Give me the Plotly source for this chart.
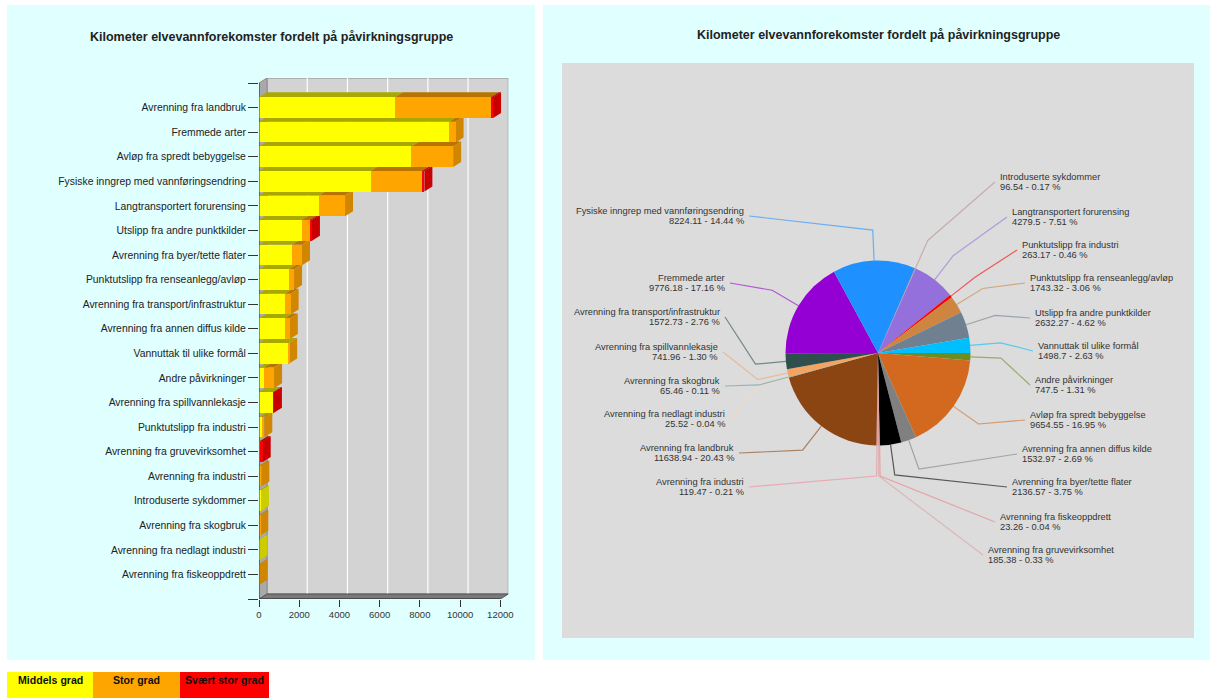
import math
import plotly.graph_objects as go

# ---------------- data ----------------
bar_categories = [
    "Avrenning fra landbruk",
    "Fremmede arter",
    "Avløp fra spredt bebyggelse",
    "Fysiske inngrep med vannføringsendring",
    "Langtransportert forurensing",
    "Utslipp fra andre punktkilder",
    "Avrenning fra byer/tette flater",
    "Punktutslipp fra renseanlegg/avløp",
    "Avrenning fra transport/infrastruktur",
    "Avrenning fra annen diffus kilde",
    "Vannuttak til ulike formål",
    "Andre påvirkninger",
    "Avrenning fra spillvannlekasje",
    "Punktutslipp fra industri",
    "Avrenning fra gruvevirksomhet",
    "Avrenning fra industri",
    "Introduserte sykdommer",
    "Avrenning fra skogbruk",
    "Avrenning fra nedlagt industri",
    "Avrenning fra fiskeoppdrett",
]
km_middels = [6760, 9450, 7580, 5550, 2980, 2120, 1625, 1500, 1280, 1270,
              1470, 270, 700, 170, 0, 30, 97, 0, 26, 0]
km_stor = [4779, 326, 2075, 2560, 1300, 420, 512, 243, 293, 263,
           29, 478, 0, 93, 50, 89, 0, 65, 0, 23]
km_svaert = [100, 0, 0, 114, 0, 92, 0, 0, 0, 0,
             0, 0, 42, 0, 135, 0, 0, 0, 0, 0]
x_tick_values = [0, 2000, 4000, 6000, 8000, 10000, 12000]
x_tick_labels = ["0", "2000", "4000", "6000", "8000", "10000", "12000"]

pie_labels = [
    "Andre påvirkninger",
    "Avløp fra spredt bebyggelse",
    "Avrenning fra annen diffus kilde",
    "Avrenning fra byer/tette flater",
    "Avrenning fra fiskeoppdrett",
    "Avrenning fra gruvevirksomhet",
    "Avrenning fra industri",
    "Avrenning fra landbruk",
    "Avrenning fra nedlagt industri",
    "Avrenning fra skogbruk",
    "Avrenning fra spillvannlekasje",
    "Avrenning fra transport/infrastruktur",
    "Fremmede arter",
    "Fysiske inngrep med vannføringsendring",
    "Introduserte sykdommer",
    "Langtransportert forurensing",
    "Punktutslipp fra industri",
    "Punktutslipp fra renseanlegg/avløp",
    "Utslipp fra andre punktkilder",
    "Vannuttak til ulike formål",
]
pie_values = [747.5, 9654.55, 1532.97, 2136.57, 23.26, 185.38, 119.47,
              11638.94, 25.52, 65.46, 741.96, 1572.73, 9776.18, 8224.11,
              96.54, 4279.5, 263.17, 1743.32, 2632.27, 1498.7]
pie_colors = ["#6B8E23", "#D2691E", "#808080", "#000000", "#F08080",
              "#DDA0A0", "#F08898", "#8B4513", "#FFDAB9", "#5F9EA0",
              "#F4A460", "#2F4F4F", "#9400D3", "#1E90FF", "#BC8F8F",
              "#9370DB", "#FF0000", "#CD853F", "#708090", "#00BFFF"]

chart_title = "Kilometer elvevannforekomster fordelt på påvirkningsgruppe"
grade_names = ["Middels grad", "Stor grad", "Svært stor grad"]

# ---------------- page geometry (pixels) ----------------
W, H = 1212, 698
FONT = "Arial"
PANEL_BG = "#E0FFFF"


def px(x):
    return x / W


def py(y):
    return 1 - y / H


# grade colours: front, top face, side face
grade_faces = [
    ("#FFFF00", "#A8A800", "#CCCC00"),
    ("#FFA500", "#B87400", "#D08600"),
    ("#FF0000", "#A00000", "#C80000"),
]

# 3D bar box layout
AX_LEFT = 259.0        # pixel of x = 0 on the front plane
FRONT_W = 241.3        # pixels from 0 to XMAX on the front plane
DEPTH_X, DEPTH_Y = 8.0, 5.0
TOP_FRONT, BOTTOM = 83.0, 599.0
XMAX = x_tick_values[-1]
n = len(bar_categories)
idx = list(range(n))
unit_x = XMAX / FRONT_W
unit_y = (n + 1) / (BOTTOM - TOP_FRONT)
DXu = DEPTH_X * unit_x
DYu = DEPTH_Y * unit_y
BAR_W = 0.84

fig = go.Figure()

# stacked front faces
for vals, name, faces in zip([km_middels, km_stor, km_svaert], grade_names, grade_faces):
    fig.add_trace(go.Bar(
        y=idx, x=vals, orientation="h", name=name, width=BAR_W,
        marker=dict(color=faces[0], line=dict(width=0)),
        showlegend=False, hovertemplate="%{x}<extra>" + name + "</extra>",
    ))

shapes = []

# panels
shapes.append(dict(type="rect", xref="paper", yref="paper", layer="below",
                   x0=px(7), x1=px(535), y0=py(660), y1=py(5),
                   fillcolor=PANEL_BG, line=dict(width=0)))
shapes.append(dict(type="rect", xref="paper", yref="paper", layer="below",
                   x0=px(543), x1=px(1210), y0=py(660), y1=py(5),
                   fillcolor=PANEL_BG, line=dict(width=0)))
shapes.append(dict(type="rect", xref="paper", yref="paper", layer="below",
                   x0=px(562), x1=px(1194), y0=py(638), y1=py(63),
                   fillcolor="#DCDCDC", line=dict(width=0)))


def poly(pts):
    return "M " + " L ".join(f"{a},{b}" for a, b in pts) + " Z"


def data_shape(path, fill, line_color=None, width=0, layer="below"):
    return dict(type="path", xref="x", yref="y", layer=layer, path=path,
                fillcolor=fill,
                line=dict(color=line_color or fill, width=width))


# back wall, left wall and floor
shapes.append(data_shape(poly([(DXu, -1 - DYu), (XMAX + DXu, -1 - DYu),
                               (XMAX + DXu, n - DYu), (DXu, n - DYu)]),
                         "#D3D3D3", "#8C8C8C", 1))
shapes.append(data_shape(poly([(0, -1), (DXu, -1 - DYu), (DXu, n - DYu), (0, n)]),
                         "#A9A9A9", "#8C8C8C", 1))
for t in x_tick_values[1:-1]:
    shapes.append(dict(type="line", xref="x", yref="y", layer="below",
                       x0=t + DXu, x1=t + DXu, y0=-1 - DYu, y1=n - DYu,
                       line=dict(color="#FFFFFF", width=1.2)))
shapes.append(data_shape(poly([(0, n), (XMAX, n), (XMAX + DXu, n - DYu), (DXu, n - DYu)]),
                         "#7A7A7A", "#555555", 1))

# top and side faces of the bars
for i in idx:
    segs = []
    start = 0
    for vals, faces in zip([km_middels, km_stor, km_svaert], grade_faces):
        v = vals[i]
        if v > 0:
            segs.append((start, start + v, faces))
        start += v
    y_top = i - BAR_W / 2
    y_bot = i + BAR_W / 2
    for x0, x1, faces in segs:
        shapes.append(data_shape(poly([(x0, y_top), (x1, y_top),
                                       (x1 + DXu, y_top - DYu), (x0 + DXu, y_top - DYu)]),
                                 faces[1]))
    if segs:
        xe = segs[-1][1]
        shapes.append(data_shape(poly([(xe, y_top), (xe + DXu, y_top - DYu),
                                       (xe + DXu, y_bot - DYu), (xe, y_bot)]),
                                 segs[-1][2][2]))

# front axis lines
shapes.append(dict(type="line", xref="x", yref="y", layer="above",
                   x0=0, x1=0, y0=-1, y1=n, line=dict(color="#333333", width=1)))
shapes.append(dict(type="line", xref="x", yref="y", layer="above",
                   x0=0, x1=XMAX, y0=n, y1=n, line=dict(color="#333333", width=1)))

# ---------------- pie ----------------
CX, CY, R = 878.0, 353.0, 92.5
total = sum(pie_values)
fig.add_trace(go.Pie(
    labels=pie_labels, values=pie_values, sort=False, direction="clockwise",
    rotation=90, marker=dict(colors=pie_colors, line=dict(width=0)),
    textinfo="none", showlegend=False,
    domain=dict(x=[px(CX - R), px(CX + R)], y=[py(CY + R), py(CY - R)]),
    hovertemplate="%{label}<br>%{value}<extra></extra>",
))

# label anchors for the pie: side, x, y (pixels), one per slice in pie order
label_anchor = [
    ("r", 1033, 385), ("r", 1028, 420), ("r", 1020, 454), ("r", 1010, 487),
    ("r", 998, 522), ("r", 986, 555), ("l", 746, 487), ("l", 736, 453),
    ("l", 727, 419), ("l", 722, 386), ("l", 720, 352), ("l", 722, 317),
    ("l", 727, 283), ("l", 746, 216), ("r", 998, 182), ("r", 1010, 217),
    ("r", 1020, 250), ("r", 1028, 283), ("r", 1033, 318), ("r", 1036, 351),
]
LINE_GAP = 5.3

annotations = []
cum = 0.0
for lab, val, col, (side, ax_, ay_) in zip(pie_labels, pie_values, pie_colors, label_anchor):
    mid = math.radians(90 + 360 * (cum + val / 2) / total)
    cum += val
    ex, ey = CX + R * math.sin(mid), CY - R * math.cos(mid)
    kx, ky = CX + 1.33 * R * math.sin(mid), CY - 1.33 * R * math.cos(mid)
    lx = ax_ - 3 if side == "r" else ax_ + 3
    path = f"M {px(ex)},{py(ey)} L {px(kx)},{py(ky)} L {px(lx)},{py(ay_)}"
    shapes.append(dict(type="path", xref="paper", yref="paper", layer="above",
                       path=path, opacity=0.6, line=dict(color=col, width=1.2)))
    pct = val / total * 100
    for line_text, dy in [(lab, -LINE_GAP), (f"{val} - {pct:.2f} %", LINE_GAP)]:
        annotations.append(dict(
            xref="paper", yref="paper", x=px(ax_), y=py(ay_ + dy),
            xanchor="left" if side == "r" else "right", yanchor="middle",
            text=line_text, showarrow=False,
            font=dict(family=FONT, size=9.3, color="#333333"),
        ))

# titles
for cx_, cy_ in [(271, 37), (878, 35)]:
    annotations.append(dict(
        xref="paper", yref="paper", x=px(cx_), y=py(cy_),
        xanchor="center", yanchor="middle", showarrow=False,
        text=f"<b>{chart_title}</b>",
        font=dict(family=FONT, size=12.5, color="#222222"),
    ))

# grade key along the bottom edge
key_edges = [7, 93, 180, 269]
for k, (name, faces) in enumerate(zip(grade_names, grade_faces)):
    shapes.append(dict(type="rect", xref="paper", yref="paper", layer="below",
                       x0=px(key_edges[k]), x1=px(key_edges[k + 1]),
                       y0=py(698), y1=py(672), fillcolor=faces[0],
                       line=dict(width=0)))
    annotations.append(dict(
        xref="paper", yref="paper",
        x=px((key_edges[k] + key_edges[k + 1]) / 2), y=py(680),
        xanchor="center", yanchor="middle", showarrow=False,
        text=f"<b>{name}</b>",
        font=dict(family=FONT, size=10.6, color="#111111"),
    ))

fig.update_layout(
    width=W, height=H, margin=dict(l=0, r=0, t=0, b=0, autoexpand=False),
    paper_bgcolor="#FFFFFF", plot_bgcolor=PANEL_BG,
    barmode="stack", bargap=0,
    shapes=shapes, annotations=annotations,
    xaxis=dict(
        domain=[px(AX_LEFT), px(AX_LEFT + FRONT_W + DEPTH_X)],
        range=[0, XMAX + DXu], tickvals=x_tick_values, ticktext=x_tick_labels,
        ticks="outside", ticklen=7, tickcolor="#333333", automargin=False,
        tickfont=dict(family=FONT, size=9.5, color="#333333"),
        showgrid=False, zeroline=False, showline=False, fixedrange=True,
    ),
    yaxis=dict(
        domain=[py(BOTTOM), py(TOP_FRONT - DEPTH_Y)],
        range=[n, -1 - DYu], automargin=False,
        tickvals=[-1] + idx + [n], ticktext=[""] + bar_categories + [""],
        ticks="outside", ticklen=10, tickcolor="#333333",
        tickfont=dict(family=FONT, size=10.4, color="#222222"),
        showgrid=False, zeroline=False, showline=False, fixedrange=True,
    ),
)

fig.write_html("out.html", config=dict(responsive=False, displayModeBar=False))
